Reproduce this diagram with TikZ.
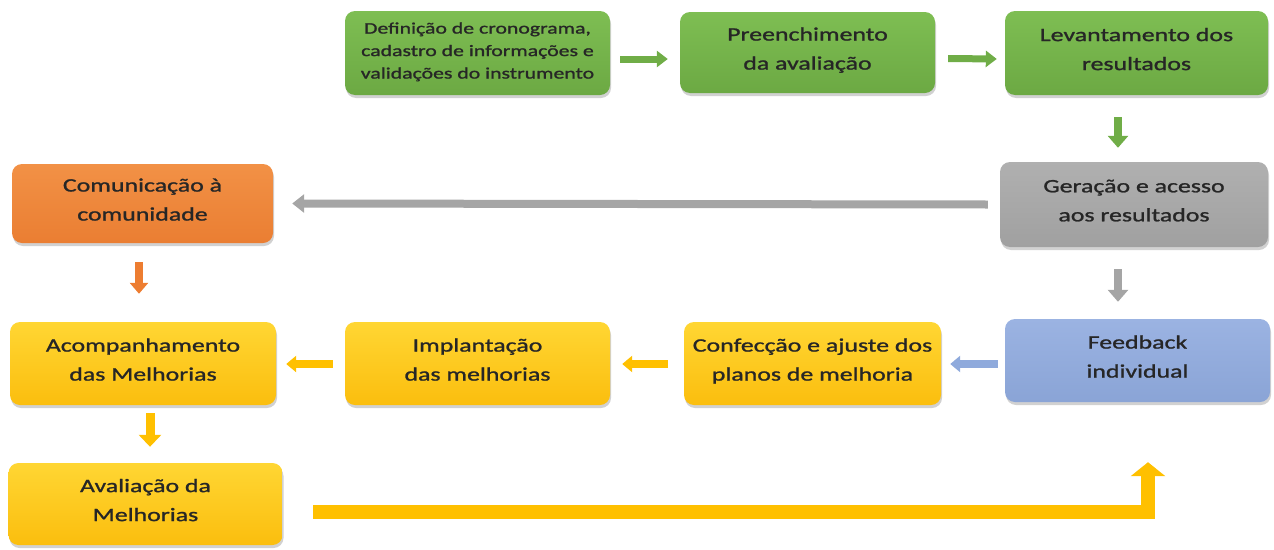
\documentclass[tikz,border=0pt]{standalone}
\usepackage{fontspec}
\setmainfont{Carlito}[FakeStretch=1.36,FakeBold=1.2]
\usetikzlibrary{arrows.meta,shadows}
\definecolor{gA}{HTML}{7EBE53}
\definecolor{gB}{HTML}{6CA943}
\definecolor{oA}{HTML}{F29146}
\definecolor{oB}{HTML}{EA7E32}
\definecolor{yA}{HTML}{FFD633}
\definecolor{yB}{HTML}{FBBE0E}
\definecolor{grA}{HTML}{B0B0B0}
\definecolor{grB}{HTML}{A0A0A0}
\definecolor{bA}{HTML}{9BB3E2}
\definecolor{bB}{HTML}{8AA4D6}
\definecolor{txt}{HTML}{262626}
\definecolor{agreen}{HTML}{70AD47}
\definecolor{agray}{HTML}{A5A5A5}
\definecolor{aorange}{HTML}{ED7D31}
\definecolor{ablue}{HTML}{8FAADC}
\definecolor{ayellow}{HTML}{FFC000}
\tikzset{
  box/.style={rounded corners=10pt, inner sep=0pt, align=center, text=txt,
    font=\fontsize{19}{29}\selectfont, text depth=8pt,
    drop shadow={shadow xshift=1pt, shadow yshift=-3pt, opacity=0.3, fill=black!60}},
  greenbox/.style={box, top color=gA, bottom color=gB},
  orangebox/.style={box, top color=oA, bottom color=oB},
  yellowbox/.style={box, top color=yA, bottom color=yB},
  graybox/.style={box, top color=grA, bottom color=grB},
  bluebox/.style={box, top color=bA, bottom color=bB},
  barrow/.style={line width=7.5pt, -{Triangle[width=18pt,length=11pt]}},
}
\begin{document}
\begin{tikzpicture}[x=1pt,y=-1pt]
\useasboundingbox (0,0) rectangle (1274,549);
\node[greenbox, minimum width=265pt, minimum height=84pt, font=\fontsize{16}{22.5}\selectfont, text depth=5pt] (def) at (477.5,53)
  {Definição de cronograma,\\cadastro de informações e\\validações do instrumento};
\node[greenbox, minimum width=255pt, minimum height=81pt] (pre) at (807.5,52.5) {Preenchimento\\da avaliação};
\node[greenbox, minimum width=263pt, minimum height=84pt] (lev) at (1136.5,53) {Levantamento dos\\resultados};
\node[graybox, minimum width=268pt, minimum height=85pt] (ger) at (1134,204.5) {Geração e acesso\\aos resultados};
\node[orangebox, minimum width=261pt, minimum height=79pt] (com) at (142.5,203.5) {Comunicação à\\comunidade};
\node[bluebox, minimum width=265pt, minimum height=83pt] (fee) at (1137.5,360.5) {Feedback\\individual};
\node[yellowbox, minimum width=257pt, minimum height=83pt] (con) at (812.5,363.5) {Confecção e ajuste dos\\planos de melhoria};
\node[yellowbox, minimum width=265pt, minimum height=83pt] (imp) at (477.5,363.5) {Implantação\\das melhorias};
\node[yellowbox, minimum width=266pt, minimum height=83pt] (aco) at (143,363.5) {Acompanhamento\\das Melhorias};
\node[yellowbox, minimum width=274pt, minimum height=82pt] (ava) at (145.5,504) {Avaliação da\\Melhorias};

\draw[barrow, agreen, line width=7pt, -{Triangle[width=16pt,length=11pt]}]
  ([yshift=-6pt,xshift=10pt]def.east) -- ([yshift=-6.5pt,xshift=-12pt]pre.west);
\draw[barrow, agreen, line width=7pt, -{Triangle[width=16pt,length=11pt]}]
  ([yshift=-6pt,xshift=13pt]pre.east) -- ([yshift=-6pt,xshift=-8pt]lev.west);
\draw[barrow, agreen, line width=8pt, -{Triangle[width=20pt,length=12pt]}]
  ([xshift=-18.5pt,yshift=-22pt]lev.south) -- ([xshift=-16pt,yshift=14pt]ger.north);
\draw[barrow, agray, line width=8pt, -{Triangle[width=18pt,length=12pt]}]
  ([xshift=-12pt,yshift=0pt]ger.west) -- ([xshift=19pt,yshift=0pt]com.east);
\draw[barrow, agray, line width=8pt, -{Triangle[width=20pt,length=12pt]}]
  ([xshift=-16pt,yshift=-22pt]ger.south) -- ([xshift=-19.5pt,yshift=17pt]fee.north);
\draw[barrow, aorange, line width=8pt, -{Triangle[width=18pt,length=11pt]}]
  ([xshift=-3.5pt,yshift=-19pt]com.south) -- ([xshift=-4pt,yshift=28pt]aco.north);
\draw[barrow, ablue, line width=8pt, -{Triangle[width=16pt,length=10pt]}]
  ([xshift=-7pt,yshift=-3.5pt]fee.west) -- ([xshift=9pt,yshift=-0.5pt]con.east);
\draw[barrow, ayellow, line width=8pt, -{Triangle[width=16pt,length=10pt]}]
  ([xshift=-16pt,yshift=-0.5pt]con.west) -- ([xshift=12pt,yshift=-0.5pt]imp.east);
\draw[barrow, ayellow, line width=8pt, -{Triangle[width=16pt,length=10pt]}]
  ([xshift=-12pt,yshift=-0.5pt]imp.west) -- ([xshift=10pt,yshift=-0.5pt]aco.east);
\draw[barrow, ayellow, line width=9pt, -{Triangle[width=22pt,length=12pt]}]
  ([xshift=7pt,yshift=-8pt]aco.south) -- ([xshift=4.5pt,yshift=16pt]ava.north);
\draw[ayellow, line width=14pt, miter limit=10, -{Triangle[width=34pt,length=14pt]}]
  ([xshift=30.5pt,yshift=-7.5pt]ava.east) -| ([xshift=10.5pt,yshift=-60pt]fee.south);
\end{tikzpicture}
\end{document}
